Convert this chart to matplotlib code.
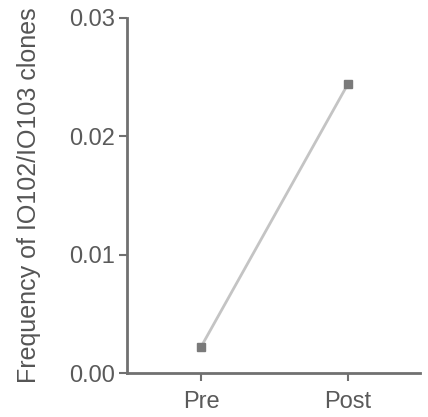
import matplotlib
matplotlib.use("Agg")
import matplotlib.pyplot as plt

plt.rcParams['font.family'] = ['Liberation Sans', 'DejaVu Sans']

groups = ['Pre', 'Post']
freq = [0.0022, 0.0244]
yticks = [0.00, 0.01, 0.02, 0.03]

fig = plt.figure(figsize=(4.28, 4.17), dpi=100)
ax = fig.add_axes([0.297, 0.1055, 0.684, 0.852])

x = list(range(len(groups)))
ax.plot(x, freq, color='#c4c4c4', lw=2, zorder=1)
ax.plot(x, freq, ls='none', marker='s', ms=6, color='#7a7a7a', zorder=2)

ax.set_xlim(-0.503, 1.49)
ax.set_ylim(0, 0.03)
ax.set_xticks(x)
ax.set_xticklabels(groups)
ax.set_yticks(yticks)
ax.set_yticklabels(['%.2f' % v for v in yticks])
ax.set_ylabel('Frequency of IO102/IO103 clones', fontsize=18, color='#555555', labelpad=20)

for s in ['top', 'right']:
    ax.spines[s].set_visible(False)
for s in ['left', 'bottom']:
    ax.spines[s].set_color('#707070')
    ax.spines[s].set_linewidth(2)
ax.tick_params(colors='#707070', labelcolor='#5a5a5a', labelsize=17, width=1.5, length=6, pad=3)
ax.tick_params(axis='x', pad=7)

fig.savefig('out.png', dpi=100)
